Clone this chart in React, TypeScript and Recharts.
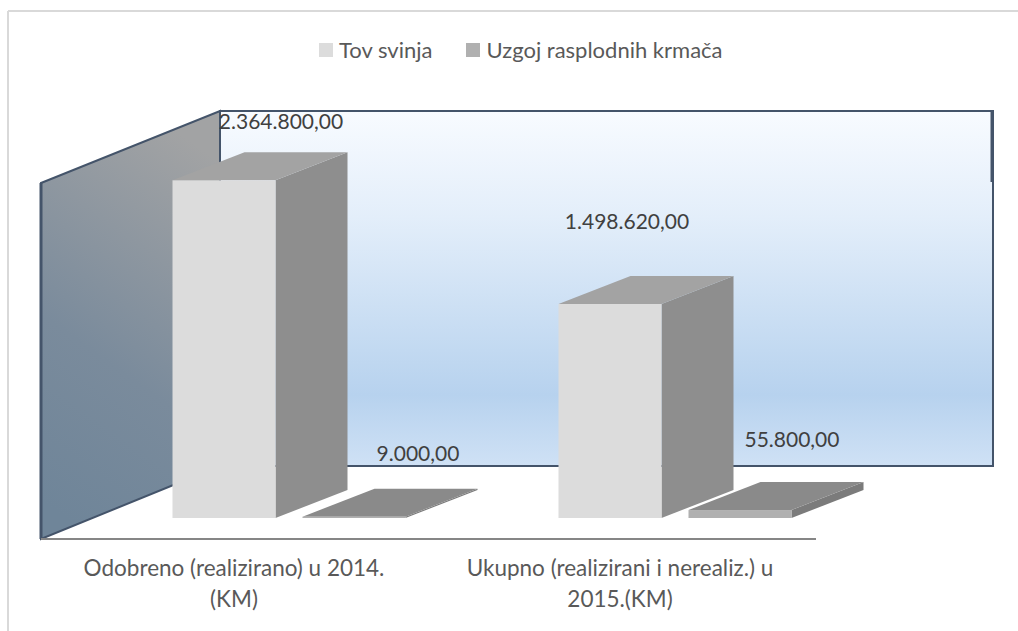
import React from 'react';
import { BarChart, Bar, XAxis, YAxis, Legend, LabelList } from 'recharts';

const categories = ['Odobreno (realizirano) u 2014. (KM)', 'Ukupno (realizirani i nerealiz.) u 2015.(KM)'];
const tovSvinja = [2364800, 1498620];
const uzgojKrmaca = [9000, 55800];
const seriesNames = ['Tov svinja', 'Uzgoj rasplodnih krmača'];

const chartData = categories.map((name, i) => ({ name, tov: tovSvinja[i], uzgoj: uzgojKrmaca[i] }));

const FONT = 'Lato, "Open Sans", sans-serif';
// bars stand halfway into the floor, so shift them from the front plane
const SHIFT_X = 54.5;
const SHIFT_Y = -21;
const DEPTH_X = 72;
const DEPTH_Y = -28;
const WRAP_CHARS = 34;

const formatKM = (v: number) =>
  v.toLocaleString('de-DE', { minimumFractionDigits: 2, maximumFractionDigits: 2 });

const wrapLabel = (label: string) => {
  const lines: string[] = [];
  label.split(' ').forEach((word) => {
    const last = lines[lines.length - 1];
    if (last !== undefined && `${last} ${word}`.length <= WRAP_CHARS) lines[lines.length - 1] = `${last} ${word}`;
    else lines.push(word);
  });
  return lines;
};

const box3d = (top: string, side: string) => (props: any) => {
  const x = props.x + SHIFT_X;
  const y = props.y + SHIFT_Y;
  const w = props.width;
  const h = props.height;
  return (
    <g>
      <polygon
        points={`${x + w},${y} ${x + w + DEPTH_X},${y + DEPTH_Y} ${x + w + DEPTH_X},${y + h + DEPTH_Y} ${x + w},${y + h}`}
        fill={side}
      />
      <polygon
        points={`${x},${y} ${x + DEPTH_X},${y + DEPTH_Y} ${x + w + DEPTH_X},${y + DEPTH_Y} ${x + w},${y}`}
        fill={top}
      />
      <rect x={x} y={y} width={w} height={h} fill={props.fill} />
    </g>
  );
};

// hand placed labels in the original, offset from the top centre of each bar
const dataLabel = (offsets: number[][]) => (props: any) => {
  const { x, y, width, value, index } = props;
  return (
    <text
      x={x + width / 2 + SHIFT_X + offsets[index][0]}
      y={y + SHIFT_Y + offsets[index][1]}
      textAnchor="middle"
      dominantBaseline="central"
      fontFamily={FONT}
      fontSize={21}
      fill="#404040"
    >
      {formatKM(value)}
    </text>
  );
};

const CategoryTick = ({ x, y, payload }: any) => (
  <text x={x} y={y + 29} textAnchor="middle" fontFamily={FONT} fontSize={22.5} fill="#595959">
    {wrapLabel(payload.value).map((line, i) => (
      <tspan key={i} x={x} dy={i === 0 ? 0 : 31}>
        {line}
      </tspan>
    ))}
  </text>
);

const TopLegend = ({ payload }: any) => (
  <div style={{ display: 'flex', fontFamily: FONT, fontSize: 22, color: '#595959', lineHeight: '26px' }}>
    {(payload || []).map((item: any, i: number) => (
      <div key={i} style={{ display: 'flex', alignItems: 'center', marginRight: 34 }}>
        <span style={{ width: 14, height: 14, background: item.color, marginRight: 6 }} />
        {item.value}
      </div>
    ))}
  </div>
);

const Walls = () => (
  <svg width={1018} height={631} style={{ position: 'absolute', left: 0, top: 0 }}>
    <defs>
      <linearGradient id="backWall" x1="0" y1="0" x2="0" y2="1">
        <stop offset="0" stopColor="#f8fbff" />
        <stop offset="0.3" stopColor="#e3eefa" />
        <stop offset="0.8" stopColor="#b7d2ee" />
        <stop offset="1" stopColor="#cfe1f5" />
      </linearGradient>
      <linearGradient id="sideWall" x1="0.6" y1="0" x2="0.3" y2="1">
        <stop offset="0" stopColor="#a2a3a4" />
        <stop offset="0.6" stopColor="#7a8b9c" />
        <stop offset="1" stopColor="#6f8599" />
      </linearGradient>
    </defs>
    <line x1={8} y1={11} x2={1018} y2={11} stroke="#d9d9d9" strokeWidth={2} />
    <line x1={8} y1={11} x2={8} y2={631} stroke="#d9d9d9" strokeWidth={2} />
    <rect x={220} y={111} width={773} height={355} fill="url(#backWall)" stroke="#44546a" strokeWidth={2} />
    <line x1={992} y1={110} x2={992} y2={182} stroke="#44546a" strokeWidth={3} />
    <polygon points="41,183 220,111 220,466 41,539" fill="url(#sideWall)" stroke="#44546a" strokeWidth={2} />
    <line x1={41} y1={183} x2={41} y2={539} stroke="#44546a" strokeWidth={3} />
  </svg>
);

export default function App() {
  return (
    <div style={{ position: 'absolute', left: 0, top: 0, width: 1018, height: 631, background: '#fff' }}>
      <Walls />
      <div style={{ position: 'absolute', left: 0, top: 0 }}>
        <BarChart
          width={1018}
          height={631}
          data={chartData}
          margin={{ top: 182, right: 202, bottom: 0, left: 41 }}
          barSize={103}
          barGap={27}
        >
          <XAxis
            dataKey="name"
            height={92}
            interval={0}
            padding={{ left: 0, right: 3 }}
            axisLine={{ stroke: '#868686', strokeWidth: 2 }}
            tickLine={false}
            tick={<CategoryTick />}
          />
          <YAxis hide domain={[0, 2500000]} />
          <Legend
            verticalAlign="middle"
            content={<TopLegend />}
            wrapperStyle={{ top: 37, left: 319, width: 500, bottom: 'auto' }}
          />
          <Bar dataKey="tov" name={seriesNames[0]} fill="#dcdcdc" shape={box3d('#a3a3a3', '#8e8e8e')} isAnimationActive={false}>
            <LabelList dataKey="tov" content={dataLabel([[57, -60], [17, -83]])} />
          </Bar>
          <Bar dataKey="uzgoj" name={seriesNames[1]} fill="#b0b0b0" shape={box3d('#8a8a8a', '#7b7b7b')} isAnimationActive={false}>
            <LabelList dataKey="uzgoj" content={dataLabel([[64, -64], [52, -72]])} />
          </Bar>
        </BarChart>
      </div>
    </div>
  );
}
